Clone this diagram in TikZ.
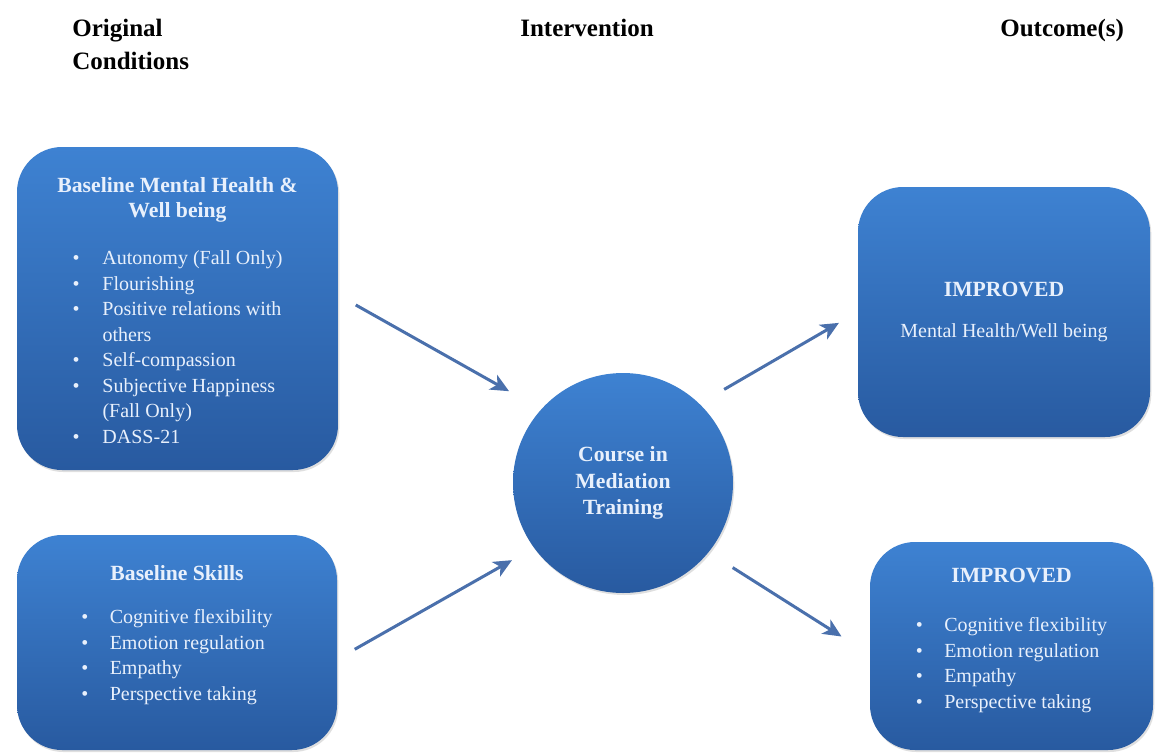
\documentclass[tikz,border=0pt]{standalone}
\usepackage{fontspec}
\setmainfont{Liberation Serif}
\usetikzlibrary{shapes.geometric}
\usetikzlibrary{arrows.meta}
\usetikzlibrary{shadows}
\definecolor{panelTop}{RGB}{62,130,210}
\definecolor{panelBot}{RGB}{40,90,160}
\definecolor{panelText}{RGB}{232,240,252}
\definecolor{linkBlue}{RGB}{74,112,172}
\newcommand{\titlefont}{\fontsize{13}{14.5}\selectfont\bfseries}
\newcommand{\itemfont}{\fontsize{12}{15.3}\selectfont\mdseries}
\newcommand{\bul}{\textbullet}
\tikzstyle{panel} = [rectangle, rounded corners=27pt, top color=panelTop,
                     bottom color=panelBot, text=panelText, align=center,
                     font=\titlefont,
                     drop shadow={opacity=0.25, shadow xshift=0.8pt, shadow yshift=-1.2pt}]
\tikzstyle{hub}    = [circle, top color=panelTop, bottom color=panelBot,
                     text=panelText, align=center, minimum size=132pt, inner sep=0pt,
                     font=\fontsize{13}{16}\selectfont\bfseries,
                     drop shadow={opacity=0.25, shadow xshift=0.8pt, shadow yshift=-1.2pt}]
\tikzstyle{header} = [anchor=north west, align=left, inner sep=0pt,
                     font=\fontsize{15}{19.5}\selectfont\bfseries]
\tikzstyle{link}   = [-{Stealth[length=11pt,width=10pt,inset=3pt]}, line width=1.8pt,
                     draw=linkBlue]

\begin{document}
\begin{tikzpicture}[x=0.6pt, y=-0.6pt]

% background
\fill[white] (0,0) rectangle (1156,753);

% headers
\path (72,19)   node [header] (hdorig)  {Original\\Conditions};
\path (520,19)  node [header] (hdint)   {Intervention};
\path (1000,19) node [header] (hdout)   {Outcome(s)};

% add nodes
\path (177.5,308.5) node [panel, minimum width=192.6pt, minimum height=193.8pt] (mental)
  {Baseline Mental Health \&\\ Well being\\[14pt]
   \itemfont\begin{tabular}{@{}p{18pt}@{}l@{}}
   \bul & Autonomy (Fall Only)\\
   \bul & Flourishing\\
   \bul & Positive relations with\\
        & others\\
   \bul & Self-compassion\\
   \bul & Subjective Happiness\\
        & (Fall Only)\\
   \bul & DASS-21
   \end{tabular}\\[-8pt]};

\path (177,642.5) node [panel, minimum width=192pt, minimum height=129pt] (skills)
  {Baseline Skills\\[14pt]
   \itemfont\begin{tabular}{@{}p{17pt}@{}l@{}}
   \bul & Cognitive flexibility\\
   \bul & Emotion regulation\\
   \bul & Empathy\\
   \bul & Perspective taking
   \end{tabular}\\[6pt]};

\path (623,483) node [hub] (course) {Course in\\ Mediation\\ Training};

\path (1004,312) node [panel, minimum width=175.2pt, minimum height=150pt] (wellout)
  {IMPROVED\\[10pt]
   \itemfont Mental Health/Well being};

\path (1011.5,646) node [panel, minimum width=169.8pt, minimum height=124.8pt] (skillout)
  {IMPROVED\\[18pt]
   \itemfont\begin{tabular}{@{}p{17pt}@{}l@{}}
   \bul & Cognitive flexibility\\
   \bul & Emotion regulation\\
   \bul & Empathy\\
   \bul & Perspective taking
   \end{tabular}\\[4pt]};

% add connections
\draw[link, shorten <=12pt, shorten >=22pt] ([yshift=8pt]mental.east) -- (course.138);
\draw[link, shorten <=12pt, shorten >=15pt] ([yshift=-10pt]skills.east) -- (course.216);
\draw[link, shorten <=17pt, shorten >=13pt] (course.46) -- (wellout.west);
\draw[link, shorten <=17pt, shorten >=20pt] (course.-39) -- ([yshift=-5pt]skillout.west);

\end{tikzpicture}
\end{document}
